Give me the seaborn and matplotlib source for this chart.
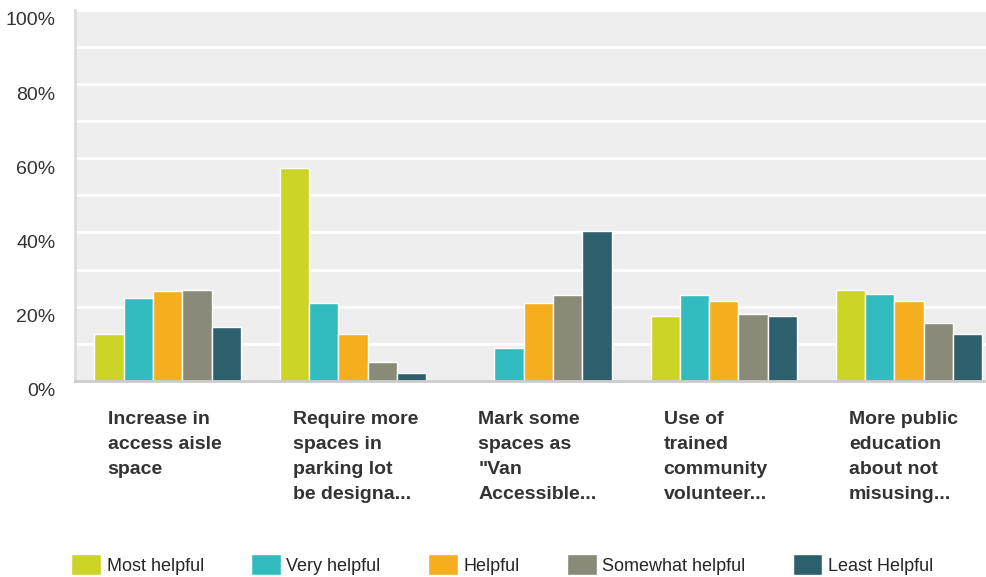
import numpy as np
import pandas as pd
import matplotlib.pyplot as plt
import matplotlib.transforms as mtransforms
from matplotlib.patches import Patch
import seaborn as sns

# data (percent)
categories = ["Increase in\naccess aisle\nspace",
              "Require more\nspaces in\nparking lot\nbe designa...",
              "Mark some\nspaces as\n\"Van\nAccessible...",
              "Use of\ntrained\ncommunity\nvolunteer...",
              "More public\neducation\nabout not\nmisusing..."]
levels = ["Most helpful", "Very helpful", "Helpful", "Somewhat helpful", "Least Helpful"]
most_helpful = [12.7, 57.3, 0.0, 17.6, 24.6]
very_helpful = [22.2, 21.1, 8.9, 23.0, 23.5]
helpful = [24.1, 12.7, 21.1, 21.6, 21.6]
somewhat_helpful = [24.6, 5.1, 23.0, 18.1, 15.7]
least_helpful = [14.6, 2.1, 40.3, 17.6, 12.7]
colors = ["#CDD428", "#32BCBF", "#F5AE1E", "#898A78", "#2E5F6D"]

rows = []
for lvl, vals in zip(levels, [most_helpful, very_helpful, helpful, somewhat_helpful, least_helpful]):
    for cat, v in zip(categories, vals):
        rows.append({"cat": cat, "level": lvl, "value": v})
df = pd.DataFrame(rows)

sns.set_style("white")
plt.rcParams['font.family'] = ['Liberation Sans', 'DejaVu Sans']

fig = plt.figure(figsize=(9.86, 5.77), dpi=100)
# plot area runs a little past the right edge, as in the original
ax = fig.add_axes([0.076, 0.34, 0.94, 0.643])
ax.set_facecolor("#EEEEEE")

sns.barplot(data=df, x="cat", y="value", hue="level", order=categories, hue_order=levels,
            palette=colors, width=0.79, edgecolor="white", linewidth=1, saturation=1,
            legend=False, ax=ax)

ax.set_ylim(0, 100)
ax.set_xlim(-0.5, 4.5)
ax.set_yticks(np.arange(0, 101, 20))
ax.set_yticks(np.arange(10, 100, 20), minor=True)
ax.set_yticklabels([f"{t}%" for t in range(0, 101, 20)], fontsize=14, color="#333333")
ax.grid(axis="y", which="both", color="white", linewidth=2)
ax.set_axisbelow(True)
ax.tick_params(axis="y", which="both", length=0, pad=14)
ax.tick_params(axis="x", length=0, pad=22)
ax.set_xlabel("")
ax.set_ylabel("")
ydown = mtransforms.ScaledTranslation(0, -0.09, fig.dpi_scale_trans)
for lab in ax.get_yticklabels():
    lab.set_transform(lab.get_transform() + ydown)

for s in ["top", "right"]:
    ax.spines[s].set_visible(False)
ax.spines["left"].set_color("#DDDDDD")
ax.spines["left"].set_linewidth(2)
ax.spines["bottom"].set_color("#CCCCCC")
ax.spines["bottom"].set_linewidth(2)

ax.set_xticks(range(len(categories)))
ax.set_xticklabels(categories, fontsize=14, fontweight="bold", color="#333333",
                   ha="left", va="top", linespacing=1.6)
offset = mtransforms.ScaledTranslation(-0.6, 0, fig.dpi_scale_trans)
for lab in ax.get_xticklabels():
    lab.set_transform(lab.get_transform() + offset)

handles = [Patch(facecolor=c, label=l) for c, l in zip(colors, levels)]
fig.legend(handles=handles, loc="lower left", bbox_to_anchor=(0.056, -0.025), ncol=5,
           frameon=False, handlelength=1.65, handleheight=1.4,
           columnspacing=2.62, handletextpad=0.3,
           prop={"family": ["Liberation Sans"], "size": 13})

fig.savefig("out.png", dpi=100)
